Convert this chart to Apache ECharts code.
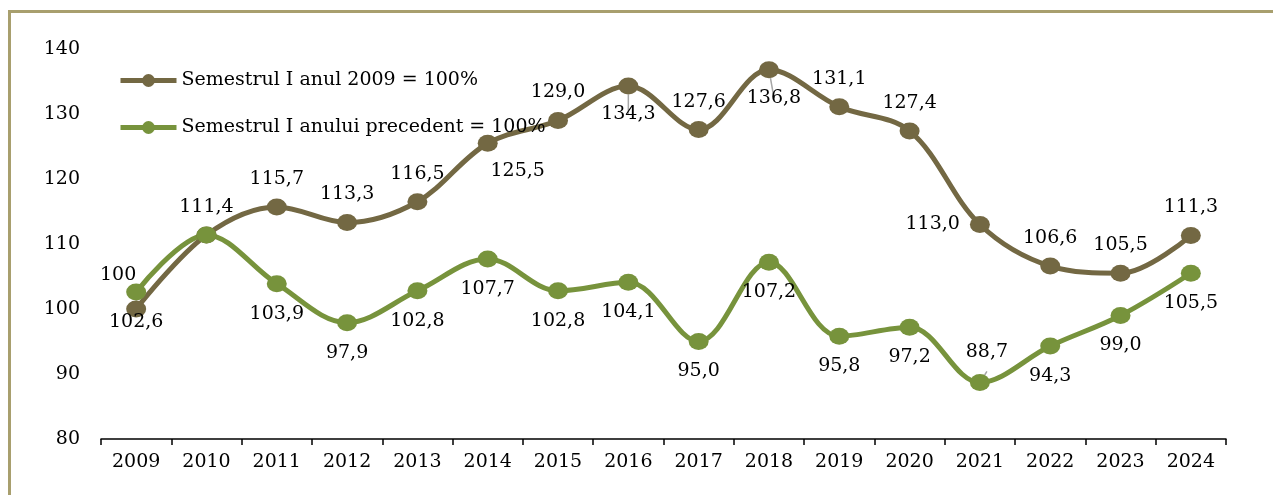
<!DOCTYPE html>
<html>
<head>
<meta charset="utf-8">
<script src="https://cdn.jsdelivr.net/npm/echarts@6/dist/echarts.min.js"></script>
<style>
  html, body { margin: 0; padding: 0; background: #fff; overflow: hidden; }
  #main { width: 1273px; height: 495px; }
</style>
</head>
<body>
<div id="main"></div>
<script>
// date
var years = ['2009', '2010', '2011', '2012', '2013', '2014', '2015', '2016',
             '2017', '2018', '2019', '2020', '2021', '2022', '2023', '2024'];
var base2009 = [100, 111.4, 115.7, 113.3, 116.5, 125.5, 129.0, 134.3,
                127.6, 136.8, 131.1, 127.4, 113.0, 106.6, 105.5, 111.3];
var prevYear = [102.6, 111.4, 103.9, 97.9, 102.8, 107.7, 102.8, 104.1,
                95.0, 107.2, 95.8, 97.2, 88.7, 94.3, 99.0, 105.5];
var yTicks = [80, 90, 100, 110, 120, 130, 140];

var nameBase = 'Semestrul I anul 2009 = 100%';
var namePrev = 'Semestrul I anului precedent = 100%';

var FONT = 'DejaVu Serif';
var guide = { show: true, lineStyle: { color: '#a6a6a6', width: 1.5 } };

function fmt(v) {
    return v === 100 ? '100' : v.toFixed(1).replace('.', ',');
}

// pozitii etichete (doar pentru punctele care nu urmeaza regula serii)
var baseLabelPos = {
    0: { label: { position: 'top', offset: [-18, -6] }, labelLine: guide },
    5: { label: { position: 'bottom', offset: [30, 0] } },
    7: { label: { position: 'bottom' }, labelLine: guide },
    9: { label: { position: 'bottom', offset: [5, 0] }, labelLine: guide },
    12: { label: { position: 'left' } }
};
var prevLabelPos = {
    1: { label: { show: false } },
    12: { label: { position: 'top', offset: [7, 0] }, labelLine: guide }
};

function buildData(values, overrides) {
    return values.map(function (v, i) {
        var item = { value: v };
        if (overrides[i]) {
            if (overrides[i].label) item.label = overrides[i].label;
            if (overrides[i].labelLine) item.labelLine = overrides[i].labelLine;
        }
        return item;
    });
}

var myChart = echarts.init(document.getElementById('main'), null, { renderer: 'canvas' });

myChart.setOption({
    animation: false,
    color: ['#736843', '#77933c'],
    // chenarul graficului (sus si stanga)
    graphic: [{
        type: 'polyline',
        silent: true,
        shape: { points: [[9.5, 500], [9.5, 11.5], [1280, 11.5]] },
        style: { stroke: '#a89f6e', lineWidth: 3, fill: null }
    }],
    grid: { left: 101, right: 47, top: 49, bottom: 56, containLabel: false },
    legend: {
        orient: 'vertical',
        left: 113,
        top: 66,
        itemWidth: 56,
        itemHeight: 16,
        itemGap: 28,
        lineStyle: { width: 5 },
        textStyle: { fontFamily: FONT, fontSize: 19, color: '#000' },
        data: [nameBase, namePrev]
    },
    xAxis: {
        type: 'category',
        data: years,
        boundaryGap: true,
        axisLine: { lineStyle: { color: '#000', width: 1.5 } },
        axisTick: { show: true, length: 6, lineStyle: { color: '#000', width: 1.5 } },
        axisLabel: { fontFamily: FONT, fontSize: 19, color: '#000', margin: 14 }
    },
    yAxis: {
        type: 'value',
        min: yTicks[0],
        max: yTicks[yTicks.length - 1],
        interval: 10,
        axisLine: { show: false },
        axisTick: { show: false },
        splitLine: { show: false },
        axisLabel: { fontFamily: FONT, fontSize: 19, color: '#000', margin: 21 }
    },
    series: [{
        name: nameBase,
        type: 'line',
        smooth: 0.35,
        symbol: 'circle',
        symbolSize: [20, 17],
        lineStyle: { width: 5 },
        label: {
            show: true,
            position: 'top',
            distance: 10,
            fontFamily: FONT,
            fontSize: 19,
            color: '#000',
            formatter: function (p) { return fmt(p.value); }
        },
        data: buildData(base2009, baseLabelPos)
    }, {
        name: namePrev,
        type: 'line',
        smooth: 0.35,
        symbol: 'circle',
        symbolSize: [20, 17],
        lineStyle: { width: 5 },
        label: {
            show: true,
            position: 'bottom',
            distance: 12,
            fontFamily: FONT,
            fontSize: 19,
            color: '#000',
            formatter: function (p) { return fmt(p.value); }
        },
        data: buildData(prevYear, prevLabelPos)
    }]
});
</script>
</body>
</html>
